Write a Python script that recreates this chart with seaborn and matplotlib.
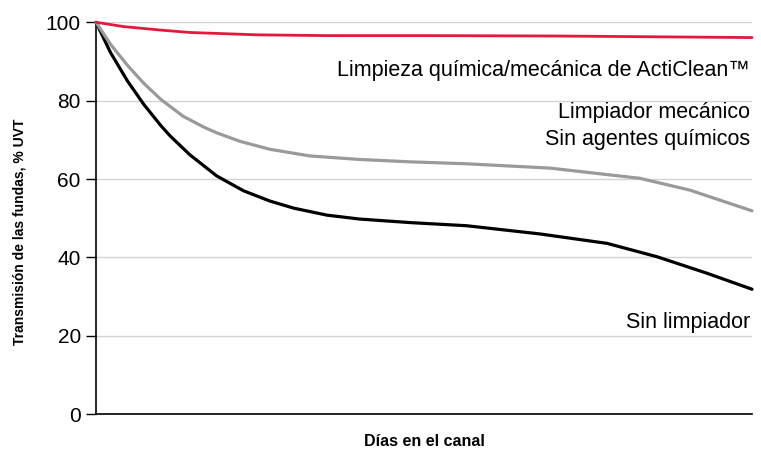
import pandas as pd
import matplotlib.pyplot as plt
import seaborn as sns

# valores (x = dias, escala relativa 0-100)
dias_acti = [0, 4.2, 9.9, 14.3, 24.5, 35, 50, 70, 100]
uvt_acti = [100, 98.9, 98.0, 97.4, 96.8, 96.6, 96.6, 96.5, 96.1]

dias_mec = [0, 2.2, 4.8, 7.3, 9.9, 13.3, 16.5, 18.4, 22, 26.5, 32.6, 40.2, 47.9, 56.5, 69.2, 82.9, 90.5, 100]
uvt_mec = [100, 94.4, 89.0, 84.4, 80.3, 76.0, 73.2, 71.8, 69.6, 67.6, 65.9, 65.0, 64.4, 63.9, 62.8, 60.2, 57.2, 51.9]

dias_sin = [0, 2.2, 4.8, 7.3, 9.9, 11.3, 14.3, 18.4, 22.5, 26.5, 30.1, 35.2, 40.2, 47.9, 56.5, 67.7, 77.9, 85.5, 93.1, 100]
uvt_sin = [100, 92.3, 85.0, 79.0, 73.6, 71.0, 66.2, 60.8, 57.0, 54.4, 52.6, 50.8, 49.8, 48.9, 48.1, 46.0, 43.6, 40.2, 36.0, 31.9]

yticks = [0, 20, 40, 60, 80, 100]

sns.set_style("white")
plt.rcParams['font.family'] = ['Liberation Sans', 'DejaVu Sans']
plt.rcParams['text.color'] = 'black'
plt.rcParams['axes.labelcolor'] = 'black'
plt.rcParams['ytick.color'] = 'black'

df = pd.concat([
    pd.DataFrame({'dias': dias_acti, 'uvt': uvt_acti, 'serie': 'acti'}),
    pd.DataFrame({'dias': dias_mec, 'uvt': uvt_mec, 'serie': 'mec'}),
    pd.DataFrame({'dias': dias_sin, 'uvt': uvt_sin, 'serie': 'sin'}),
])
colores = {'acti': '#e3183f', 'mec': '#9a9a9c', 'sin': '#000000'}

fig = plt.figure(figsize=(7.61, 4.51), dpi=100)
ax = fig.add_axes([0.1262, 0.0814, 0.862, 0.8692])

for s, lw in [('sin', 2.3), ('mec', 2.3), ('acti', 2.0)]:
    d = df[df['serie'] == s]
    sns.lineplot(data=d, x='dias', y='uvt', color=colores[s], linewidth=lw,
                 ax=ax, clip_on=False, zorder=3, solid_joinstyle='round')

ax.set_xlim(0, 100)
ax.set_ylim(0, 100)
ax.set_yticks(yticks)
ax.set_xticks([])
ax.yaxis.grid(True, color='#d3d3d3', linewidth=1)
ax.set_axisbelow(True)
for side in ['top', 'right']:
    ax.spines[side].set_visible(False)
for side in ['left', 'bottom']:
    ax.spines[side].set_color('black')
    ax.spines[side].set_linewidth(1.2)
ax.tick_params(axis='y', direction='out', length=7, width=1, color='black',
               labelcolor='black', labelsize=15, pad=4, left=True)

ax.set_xlabel('Días en el canal', fontsize=11.5, fontweight='bold', labelpad=14)
ax.set_ylabel('Transmisión de las fundas, % UVT', fontsize=10, fontweight='bold')
ax.yaxis.set_label_coords(-0.106, 0.465)

ax.text(99.7, 87.6, 'Limpieza química/mecánica de ActiClean™', ha='right', va='center', fontsize=15.5)
ax.text(99.7, 77.1, 'Limpiador mecánico', ha='right', va='center', fontsize=15.5)
ax.text(99.7, 70.0, 'Sin agentes químicos', ha='right', va='center', fontsize=15.5)
ax.text(99.7, 23.3, 'Sin limpiador', ha='right', va='center', fontsize=15.5)

fig.savefig('out.png', dpi=100)
plt.close()
